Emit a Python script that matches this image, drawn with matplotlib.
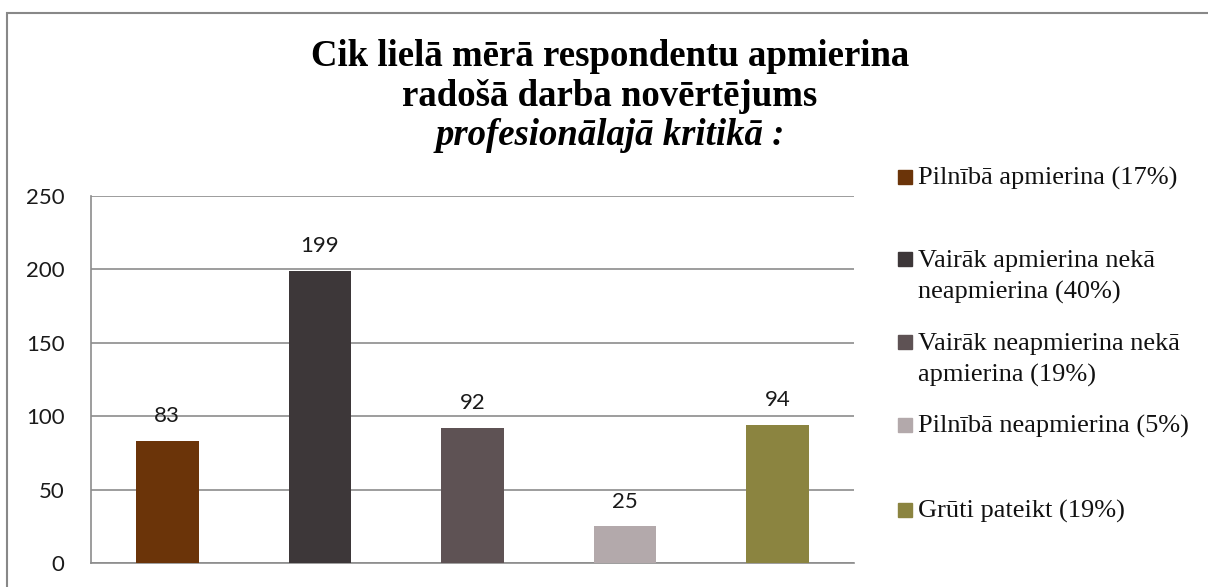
import matplotlib.pyplot as plt
from matplotlib.patches import Rectangle

categories = ['Pilnībā apmierina (17%)',
              'Vairāk apmierina nekā\nneapmierina (40%)',
              'Vairāk neapmierina nekā\napmierina (19%)',
              'Pilnībā neapmierina (5%)',
              'Grūti pateikt (19%)']
values = [83, 199, 92, 25, 94]
colors = ['#6B3409', '#3D3739', '#5E5254', '#B3A9AB', '#8B8440']
yticks = [0, 50, 100, 150, 200, 250]
title_lines = ['Cik lielā mērā respondentu apmierina', 'radošā darba novērtējums',
               'profesionālajā kritikā :']

W, H = 1208, 587
fig = plt.figure(figsize=(W / 100, H / 100), dpi=100)
ax = fig.add_axes([91 / W, 1 - 563 / H, (854 - 91) / W, (563 - 196) / H])

x = list(range(len(values)))
bars = ax.bar(x, values, width=0.41, color=colors, zorder=3)
for b, v in zip(bars, values):
    ax.annotate(str(v), (b.get_x() + b.get_width() / 2, v), xytext=(0, 13.5),
                textcoords='offset points', ha='center', va='baseline',
                fontsize=16, family='Lato', color='#1a1a1a')

ax.set_xlim(-0.5, len(values) - 0.5)
ax.set_ylim(0, 250)
ax.set_yticks(yticks)
ax.set_xticks([])
ax.tick_params(axis='y', length=0, pad=19, labelsize=16)
for lab in ax.get_yticklabels():
    lab.set_family('Lato')
    lab.set_color('#1a1a1a')
ax.grid(axis='y', color='#8C8C8C', linewidth=1.2, zorder=0)
for s in ['top', 'right']:
    ax.spines[s].set_visible(False)
for s in ['left', 'bottom']:
    ax.spines[s].set_color('#8C8C8C')
    ax.spines[s].set_linewidth(1.2)

# title, one line at a time (tight spacing like the original)
for i, (line, yb) in enumerate(zip(title_lines, [66, 106, 145])):
    fig.text(610 / W, 1 - yb / H, line, ha='center', va='baseline', fontsize=26.5,
             fontweight='bold', fontstyle='italic' if i == 2 else 'normal',
             family='Liberation Serif')

# legend
leg_base = [185, 267, 350, 433, 518]
for lab, c, yb in zip(categories, colors, leg_base):
    fig.patches.append(Rectangle((898 / W, 1 - (yb - 1) / H), 14 / W, 14 / H,
                                 transform=fig.transFigure, color=c))
    for k, part in enumerate(lab.split('\n')):
        fig.text(918 / W, 1 - (yb + 31.5 * k) / H, part, ha='left', va='baseline',
                 fontsize=19, family='Liberation Serif', color='#111111')

# outer chart border
fig.patches.append(Rectangle((7 / W, -0.05), 1.1, 1 - 13 / H + 0.05,
                             transform=fig.transFigure, fill=False,
                             edgecolor='#888888', linewidth=1.5, clip_on=False))

fig.savefig('out.png', dpi=100)
